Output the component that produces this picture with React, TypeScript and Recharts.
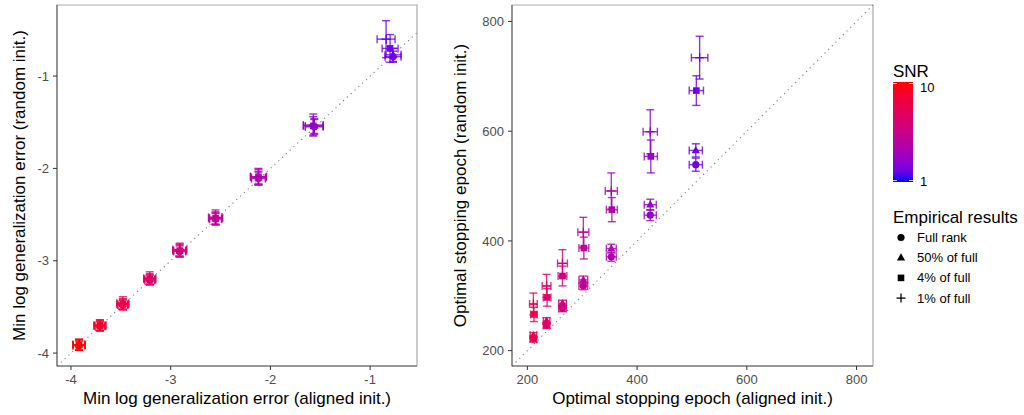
import { ScatterChart, Scatter, XAxis, YAxis, ErrorBar, ReferenceLine, ReferenceArea } from 'recharts';

const FONT = '"Liberation Sans", Arial, Helvetica, sans-serif';

// ---- left panel: min log generalization error ----
const leftSnr = [10, 9, 8, 7, 6, 5, 4, 3, 2];
const leftAlignedFull = [-3.92, -3.71, -3.48, -3.21, -2.91, -2.55, -2.12, -1.56, -0.77];
const leftRandomFull = [-3.92, -3.71, -3.48, -3.21, -2.9, -2.55, -2.11, -1.55, -0.79];
const leftAlignedHalf = [-3.92, -3.71, -3.48, -3.21, -2.91, -2.55, -2.12, -1.56, -0.77];
const leftRandomHalf = [-3.91, -3.7, -3.47, -3.2, -2.89, -2.54, -2.1, -1.54, -0.77];
const leftAlignedFour = [-3.92, -3.71, -3.48, -3.21, -2.91, -2.55, -2.12, -1.57, -0.8];
const leftRandomFour = [-3.91, -3.7, -3.47, -3.2, -2.89, -2.54, -2.09, -1.54, -0.7];
const leftAlignedOne = [-3.92, -3.71, -3.48, -3.21, -2.91, -2.55, -2.12, -1.57, -0.84];
const leftRandomOne = [-3.91, -3.7, -3.46, -3.19, -2.88, -2.53, -2.09, -1.53, -0.6];
const leftExFull = [0.06, 0.05, 0.05, 0.05, 0.06, 0.06, 0.07, 0.09, 0.08];
const leftEyFull = [0.05, 0.05, 0.05, 0.05, 0.06, 0.06, 0.07, 0.08, 0.06];
const leftExHalf = [0.06, 0.05, 0.05, 0.05, 0.06, 0.06, 0.07, 0.09, 0.08];
const leftEyHalf = [0.05, 0.05, 0.05, 0.05, 0.06, 0.06, 0.07, 0.08, 0.07];
const leftExFour = [0.06, 0.06, 0.06, 0.06, 0.07, 0.07, 0.08, 0.1, 0.08];
const leftEyFour = [0.06, 0.06, 0.06, 0.06, 0.07, 0.07, 0.08, 0.1, 0.15];
const leftExOne = [0.06, 0.06, 0.06, 0.06, 0.07, 0.07, 0.08, 0.1, 0.09];
const leftEyOne = [0.06, 0.06, 0.07, 0.07, 0.07, 0.08, 0.09, 0.12, 0.2];
const leftTicksX = [-4, -3, -2, -1];
const leftTicksY = [-4, -3, -2, -1];

// ---- right panel: optimal stopping epoch ----
const rightSnr = [8, 7, 6, 5, 4, 3, 2];
const rightAlignedFull = [211, 235, 264, 302, 353, 424, 507];
const rightRandomFull = [221, 246, 277, 318, 371, 447, 539];
const rightAlignedHalf = [211, 235, 264, 302, 353, 424, 507];
const rightRandomHalf = [228, 254, 286, 329, 386, 466, 565];
const rightAlignedFour = [212, 236, 264, 303, 354, 425, 508];
const rightRandomFour = [266, 297, 336, 387, 457, 554, 674];
const rightAlignedOne = [211, 235, 264, 302, 353, 424, 514];
const rightRandomOne = [285, 318, 359, 416, 491, 599, 734];
const rightExFull = [6, 6, 7, 8, 9, 11, 12];
const rightEyFull = [5, 5, 6, 7, 8, 10, 12];
const rightExHalf = [6, 6, 7, 8, 9, 11, 12];
const rightEyHalf = [5, 6, 6, 7, 8, 10, 12];
const rightExFour = [6, 7, 8, 9, 10, 12, 13];
const rightEyFour = [13, 16, 18, 20, 22, 30, 27];
const rightExOne = [7, 8, 9, 10, 11, 13, 15];
const rightEyOne = [20, 21, 25, 27, 33, 40, 39];
const rightTicks = [200, 400, 600, 800];

const rankLabels = ['Full rank', '50% of full', '4% of full', '1% of full'];
const ranks = ['full', 'half', 'four', 'one'];
const snrLimits = [1, 10];

// blue -> red gradient interpolated in Lab space
const BLUE_LAB = [32.3, 79.19, -107.86];
const RED_LAB = [53.24, 80.09, 67.2];

function labToHex(L: number, a: number, b: number) {
  const fy = (L + 16) / 116;
  const fx = fy + a / 500;
  const fz = fy - b / 200;
  const inv = (t: number) => (t ** 3 > 0.008856 ? t ** 3 : (t - 16 / 116) / 7.787);
  const X = 0.95047 * inv(fx);
  const Y = inv(fy);
  const Z = 1.08883 * inv(fz);
  const lin = [
    3.2406 * X - 1.5372 * Y - 0.4986 * Z,
    -0.9689 * X + 1.8758 * Y + 0.0415 * Z,
    0.0557 * X - 0.204 * Y + 1.057 * Z,
  ];
  return '#' + lin.map((c) => {
    const v = c <= 0.0031308 ? 12.92 * c : 1.055 * Math.pow(Math.max(c, 0), 1 / 2.4) - 0.055;
    const n = Math.round(Math.min(1, Math.max(0, v)) * 255);
    return n.toString(16).padStart(2, '0');
  }).join('');
}

function snrColor(t: number) {
  const m = BLUE_LAB.map((v, i) => v + (RED_LAB[i] - v) * t);
  return labToHex(m[0], m[1], m[2]);
}
const colorOf = (snr: number) => snrColor((snr - snrLimits[0]) / (snrLimits[1] - snrLimits[0]));

type Pt = { rank: string; x: number; y: number; ex: number; ey: number };

function buildGroups(snr: number[], series: { x: number[]; y: number[]; ex: number[]; ey: number[] }[]) {
  return snr.map((s, i) => ({
    snr: s,
    points: series.map((se, k) => ({ rank: ranks[k], x: se.x[i], y: se.y[i], ex: se.ex[i], ey: se.ey[i] })) as Pt[],
  }));
}

const leftGroups = buildGroups(leftSnr, [
  { x: leftAlignedFull, y: leftRandomFull, ex: leftExFull, ey: leftEyFull },
  { x: leftAlignedHalf, y: leftRandomHalf, ex: leftExHalf, ey: leftEyHalf },
  { x: leftAlignedFour, y: leftRandomFour, ex: leftExFour, ey: leftEyFour },
  { x: leftAlignedOne, y: leftRandomOne, ex: leftExOne, ey: leftEyOne },
]);

const rightGroups = buildGroups(rightSnr, [
  { x: rightAlignedFull, y: rightRandomFull, ex: rightExFull, ey: rightEyFull },
  { x: rightAlignedHalf, y: rightRandomHalf, ex: rightExHalf, ey: rightEyHalf },
  { x: rightAlignedFour, y: rightRandomFour, ex: rightExFour, ey: rightEyFour },
  { x: rightAlignedOne, y: rightRandomOne, ex: rightExOne, ey: rightEyOne },
]);

function Marker({ cx, cy, rank, color }: { cx?: number; cy?: number; rank: string; color: string }) {
  if (cx == null || cy == null) return null;
  if (rank === 'full') return <circle cx={cx} cy={cy} r={3.6} fill={color} />;
  if (rank === 'half')
    return <polygon points={`${cx},${cy - 4.4} ${cx - 4.1},${cy + 2.8} ${cx + 4.1},${cy + 2.8}`} fill={color} />;
  if (rank === 'four') return <rect x={cx - 3.3} y={cy - 3.3} width={6.6} height={6.6} fill={color} />;
  return (
    <g stroke={color} strokeWidth={1.3}>
      <line x1={cx - 4.5} x2={cx + 4.5} y1={cy} y2={cy} />
      <line x1={cx} x2={cx} y1={cy - 4.5} y2={cy + 4.5} />
    </g>
  );
}

interface PanelProps {
  groups: ReturnType<typeof buildGroups>;
  width: number;
  rightMargin: number;
  yAxisWidth: number;
  xDomain: [number, number];
  yDomain: [number, number];
  xTicks: number[];
  yTicks: number[];
}

function Panel({ groups, width, rightMargin, yAxisWidth, xDomain, yDomain, xTicks, yTicks }: PanelProps) {
  const tick = { fontSize: 13, fill: '#4d4d4d', fontFamily: FONT };
  const lo = Math.max(xDomain[0], yDomain[0]);
  const hi = Math.min(xDomain[1], yDomain[1]);
  return (
    <ScatterChart width={width} height={415} margin={{ top: 5, right: rightMargin, left: 0, bottom: 0 }}>
      <ReferenceArea x1={xDomain[0]} x2={xDomain[1]} y1={yDomain[0]} y2={yDomain[1]} fill="none" stroke="#ababab" strokeWidth={1.2} ifOverflow="visible" />
      <XAxis type="number" dataKey="x" domain={xDomain} ticks={xTicks} allowDataOverflow height={49}
        tick={tick} tickSize={4} tickMargin={5} stroke="#5a5a5a" tickLine={{ stroke: '#333' }} />
      <YAxis type="number" dataKey="y" domain={yDomain} ticks={yTicks} allowDataOverflow width={yAxisWidth}
        tick={tick} tickSize={4} tickMargin={4} stroke="#5a5a5a" tickLine={{ stroke: '#333' }} />
      <ReferenceLine segment={[{ x: lo, y: lo }, { x: hi, y: hi }]} stroke="#7f7f7f" strokeWidth={1.1}
        strokeDasharray="1.2 4" />
      {groups.map((g) => {
        const c = colorOf(g.snr);
        return (
          <Scatter key={`bars-${g.snr}`} data={g.points} isAnimationActive={false} shape={() => <g />}>
            <ErrorBar dataKey="ex" direction="x" width={4} stroke={c} strokeWidth={1.4} strokeOpacity={0.8} isAnimationActive={false} />
            <ErrorBar dataKey="ey" direction="y" width={4} stroke={c} strokeWidth={1.4} strokeOpacity={0.8} isAnimationActive={false} />
          </Scatter>
        );
      })}
      {groups.map((g) => {
        const c = colorOf(g.snr);
        return (
          <Scatter key={`pts-${g.snr}`} data={g.points} isAnimationActive={false}
            shape={(p: any) => <Marker cx={p.cx} cy={p.cy} rank={p.payload.rank} color={c} />} />
        );
      })}
    </ScatterChart>
  );
}

function Legend() {
  const stops = Array.from({ length: 11 }, (_, i) => i / 10);
  return (
    <svg width={144} height={415} style={{ position: 'absolute', left: 880, top: 0 }} fontFamily={FONT}>
      <defs>
        <linearGradient id="snrGrad" x1="0" y1="0" x2="0" y2="1">
          {stops.map((t) => (
            <stop key={t} offset={t} stopColor={snrColor(1 - t)} />
          ))}
        </linearGradient>
      </defs>
      <text x={13} y={77} fontSize={17} fill="#000">SNR</text>
      <rect x={13} y={82} width={20} height={100} fill="url(#snrGrad)" />
      <g stroke="#fff" strokeWidth={1} strokeOpacity={0.8}>
        <line x1={13} x2={17} y1={83.5} y2={83.5} />
        <line x1={29} x2={33} y1={83.5} y2={83.5} />
        <line x1={13} x2={17} y1={180.5} y2={180.5} />
        <line x1={29} x2={33} y1={180.5} y2={180.5} />
      </g>
      <text x={40} y={92} fontSize={13} fill="#000">{snrLimits[1]}</text>
      <text x={40} y={186} fontSize={13} fill="#000">{snrLimits[0]}</text>
      <text x={13} y={223} fontSize={17} fill="#000">Empirical results</text>
      {rankLabels.map((lab, i) => {
        const y = 237.5 + i * 20.2;
        return (
          <g key={lab}>
            <Marker cx={21} cy={y} rank={ranks[i]} color="#000" />
            <text x={37} y={y + 4.5} fontSize={13} fill="#000">{lab}</text>
          </g>
        );
      })}
    </svg>
  );
}

export default function App() {
  return (
    <div style={{ position: 'absolute', left: 0, top: 0, width: 1024, height: 415, background: '#fff', fontFamily: FONT }}>
      <div style={{ position: 'absolute', left: 0, top: 0 }}>
        <Panel groups={leftGroups} width={420} rightMargin={3} yAxisWidth={57} xDomain={[-4.14, -0.53]} yDomain={[-4.14, -0.23]}
          xTicks={leftTicksX} yTicks={leftTicksY} />
      </div>
      <div style={{ position: 'absolute', left: 420, top: 0 }}>
        <Panel groups={rightGroups} width={460} rightMargin={7} yAxisWidth={92} xDomain={[172, 830]} yDomain={[172, 830]}
          xTicks={rightTicks} yTicks={rightTicks} />
      </div>
      <svg width={1024} height={415} style={{ position: 'absolute', left: 0, top: 0, pointerEvents: 'none' }} fontFamily={FONT} fontSize={17}>
        <text x={237} y={404} textAnchor="middle">Min log generalization error (aligned init.)</text>
        <text x={25} y={185.5} textAnchor="middle" transform="rotate(-90 25 185.5)">Min log generalization error (random init.)</text>
        <text x={692.5} y={404} textAnchor="middle">Optimal stopping epoch (aligned init.)</text>
        <text x={466} y={185.5} textAnchor="middle" transform="rotate(-90 466 185.5)">Optimal stopping epoch (random init.)</text>
      </svg>
      <Legend />
    </div>
  );
}
